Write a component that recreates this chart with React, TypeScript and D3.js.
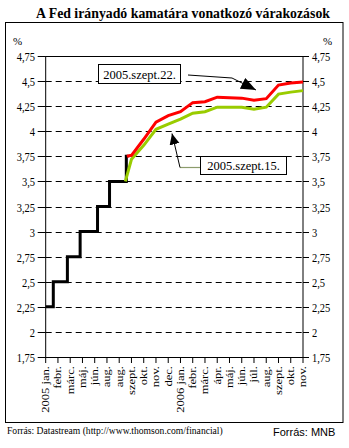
import React from 'react';
import * as d3 from 'd3';

const title = 'A Fed irányadó kamatára vonatkozó várakozások';
const categories = [
  '2005 jan.', 'febr.', 'márc.', 'máj.', 'jún.', 'aug.', 'aug.', 'szept.', 'okt.', 'nov.', 'dec.',
  '2006 jan.', 'febr.', 'márc.', 'ápr.', 'máj.', 'jún.', 'júl.', 'aug.', 'szept.', 'okt.', 'nov.',
];
const yTicks = [1.75, 2, 2.25, 2.5, 2.75, 3, 3.25, 3.5, 3.75, 4, 4.25, 4.5, 4.75];
const gridValues = [2, 2.25, 2.5, 2.75, 3, 3.25, 3.5, 3.75, 4, 4.25, 4.5];

// Fed funds target: level changes at (fractional) category positions
const fedStepIndex = [0, 0.62, 1.77, 2.81, 4.23, 5.21, 6.58, 6.75];
const fedRate = [2.25, 2.5, 2.75, 3.0, 3.25, 3.5, 3.75, 3.75];

// Market expectations, category index 7 (2005 szept.) .. 21 (2006 nov.)
const expIndex = [6.62, 7, 8, 9, 10, 11, 12, 13, 14, 15, 16, 17, 18, 19, 20, 21];
const sep22 = [3.75, 3.76, 3.92, 4.09, 4.155, 4.195, 4.285, 4.295, 4.34, 4.335, 4.33, 4.31, 4.325, 4.46, 4.48, 4.49];
const sep15Index = [6.5, 7, 8, 9, 10, 11, 12, 13, 14, 15, 16, 17, 18, 19, 20, 21];
const sep15 = [3.5, 3.72, 3.86, 4.02, 4.07, 4.12, 4.18, 4.195, 4.24, 4.24, 4.24, 4.22, 4.24, 4.37, 4.39, 4.405];

const label22 = '2005.szept.22.';
const label15 = '2005.szept.15.';
const sourceLeft = 'Forrás: Datastream (http://www.thomson.com/financial)';
const sourceRight = 'Forrás: MNB';

const fmt = (v: number) => String(v).replace('.', ',');

export default function App() {
  const W = 349, H = 448;
  const x0 = 45.7, x1 = 303;
  const yTop = 56, yBot = 357;
  const x = d3.scaleLinear().domain([0, categories.length - 1]).range([x0, x1]);
  const y = d3.scaleLinear().domain([1.75, 4.75]).range([yBot, yTop]);

  const stepLine = d3.line<[number, number]>()
    .x((d) => x(d[0])).y((d) => y(d[1])).curve(d3.curveStepAfter);
  const line = d3.line<[number, number]>().x((d) => x(d[0])).y((d) => y(d[1]));

  const fedPts = fedStepIndex.map((i, k) => [i, fedRate[k]] as [number, number]);
  const redPts = expIndex.map((i, k) => [i, sep22[k]] as [number, number]);
  const greenPts = sep15Index.map((i, k) => [i, sep15[k]] as [number, number]);

  const serif = '"Liberation Serif", "Times New Roman", serif';
  const sans = '"Liberation Sans", Arial, sans-serif';

  return (
    <svg width={W} height={H} style={{ position: 'absolute', left: 0, top: 0, background: '#fff' }}>
      <defs>
        <marker id="ah1" markerUnits="userSpaceOnUse" markerWidth="18" markerHeight="14" refX="15" refY="6" orient="auto">
          <path d="M0,0 L15,6 L0,12 Z" fill="#000" />
        </marker>
        <marker id="ah2" markerUnits="userSpaceOnUse" markerWidth="14" markerHeight="12" refX="11" refY="5" orient="auto">
          <path d="M0,0 L11,5 L0,10 Z" fill="#000" />
        </marker>
      </defs>
      <rect x={0} y={0} width={W} height={H} fill="#fff" />
      <text transform="translate(183,17.5) scale(1,1.1)" textAnchor="middle" fontFamily={serif} fontWeight="bold" fontSize={13.8}>{title}</text>
      <rect x={5.5} y={22.5} width={337.5} height={400} fill="none" stroke="#000" strokeWidth={1} />

      <text x={13} y={45} fontFamily={serif} fontSize={11}>%</text>
      <text x={323} y={45} fontFamily={serif} fontSize={11}>%</text>

      {gridValues.map((v) => (
        <line key={'g' + v} x1={x0} x2={x1} y1={Math.round(y(v)) + 0.5} y2={Math.round(y(v)) + 0.5}
          stroke="#000" strokeWidth={1} strokeDasharray="6,4" />
      ))}
      <line x1={x0} x2={x1} y1={yTop + 0.5} y2={yTop + 0.5} stroke="#000" strokeWidth={1} />
      <line x1={x0} x2={x1} y1={yBot + 0.5} y2={yBot + 0.5} stroke="#000" strokeWidth={1} />
      <line x1={x0} x2={x0} y1={yTop} y2={yBot + 0.5} stroke="#000" strokeWidth={1} />
      <line x1={x1} x2={x1} y1={yTop} y2={yBot + 0.5} stroke="#000" strokeWidth={1} />

      {yTicks.map((v) => {
        const yy = Math.round(y(v)) + 0.5;
        return (
          <g key={'t' + v}>
            <line x1={x0 - 8} x2={x0} y1={yy} y2={yy} stroke="#000" />
            <line x1={x1} x2={x1 + 6} y1={yy} y2={yy} stroke="#000" />
            <text transform={`translate(35,${yy}) scale(1,1.15)`} dy="0.35em" textAnchor="end" fontFamily={serif} fontSize={10.5}>{fmt(v)}</text>
            <text transform={`translate(312,${yy}) scale(1,1.15)`} dy="0.35em" textAnchor="start" fontFamily={serif} fontSize={10.5}>{fmt(v)}</text>
          </g>
        );
      })}

      {categories.map((c, i) => (
        <g key={'c' + i}>
          <line x1={x(i)} x2={x(i)} y1={yBot} y2={yBot + 6} stroke="#000" />
          <text transform={`translate(${x(i)},366) scale(1,1.2) rotate(-90)`} dy="0.33em" textAnchor="end"
            fontFamily={serif} fontSize={10.5}>{c}</text>
        </g>
      ))}

      <path d={stepLine(fedPts) || ''} fill="none" stroke="#000" strokeWidth={3} strokeLinejoin="miter" />
      <path d={line(greenPts) || ''} fill="none" stroke="#99cc00" strokeWidth={3} />
      <path d={line(redPts) || ''} fill="none" stroke="#ff0000" strokeWidth={3} />

      <rect x={98.5} y={64.5} width={82} height={19} fill="#fff" stroke="#000" />
      <text x={139.5} y={74.5} dy="0.35em" textAnchor="middle" fontFamily={serif} fontSize={12.5}>{label22}</text>
      <path d="M188,75 L232,78 L256,90" fill="none" stroke="#000" strokeWidth={1} markerEnd="url(#ah1)" />

      <rect x={200.5} y={156.5} width={86} height={18} fill="#fff" stroke="#000" />
      <text x={243.5} y={166} dy="0.35em" textAnchor="middle" fontFamily={serif} fontSize={12.5}>{label15}</text>
      <line x1={200} x2={180} y1={167.5} y2={167.5} stroke="#8c9c6c" strokeWidth={1.2} />
      <path d="M180,167.5 L172,133.5" fill="none" stroke="#000" strokeWidth={1} markerEnd="url(#ah2)" />

      <text x={7} y={434} fontFamily={serif} fontSize={9.6}>{sourceLeft}</text>
      <text x={273} y={436} fontFamily={sans} fontSize={11}>{sourceRight}</text>
    </svg>
  );
}
